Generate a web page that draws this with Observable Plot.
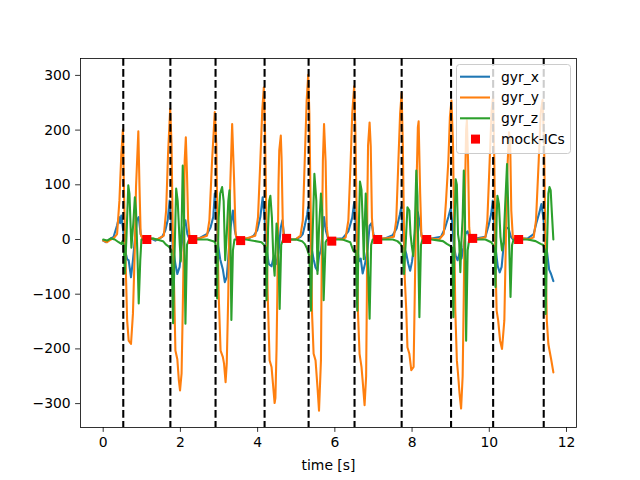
<!DOCTYPE html>
<html>
<head>
<meta charset="utf-8">
<script src="https://cdn.jsdelivr.net/npm/d3@7"></script>
<script src="https://cdn.jsdelivr.net/npm/@observablehq/plot@0.6"></script>
<style>
  html, body { margin: 0; padding: 0; background: white; }
  #wrap { position: relative; width: 640px; height: 480px; font-family: "DejaVu Sans", sans-serif; }
  #legend { position: absolute; left: 456px; top: 64px; }
</style>
</head>
<body>
<div id="wrap"></div>
<script>
// ---- data ----
const gyrXTime = [0,0.07,0.20,0.27,0.36,0.41,0.44,0.47,0.53,0.58,0.62,0.66,0.72,0.77,0.82,0.87,0.92,0.97,1.03,1.20,1.35,1.53,1.61,1.67,1.72,1.76,1.80,1.87,1.92,1.98,2.03,2.08,2.13,2.18,2.24,2.48,2.69,2.78,2.85,2.89,2.94,2.98,3.03,3.10,3.15,3.20,3.25,3.30,3.36,3.41,3.46,3.77,3.90,3.99,4.07,4.13,4.18,4.22,4.29,4.36,4.42,4.48,4.54,4.60,4.64,4.68,4.72,4.98,5.11,5.17,5.22,5.28,5.31,5.34,5.38,5.45,5.50,5.55,5.59,5.64,5.72,5.77,5.83,6.20,6.35,6.45,6.50,6.53,6.57,6.62,6.67,6.72,6.78,6.85,6.90,6.95,7.00,7.05,7.30,7.50,7.60,7.68,7.72,7.76,7.80,7.85,7.90,7.95,8.00,8.05,8.10,8.15,8.20,8.25,8.30,8.50,8.75,8.85,8.94,9.00,9.04,9.08,9.13,9.18,9.23,9.28,9.33,9.38,9.44,9.50,9.90,9.98,10.05,10.09,10.12,10.17,10.22,10.27,10.32,10.37,10.43,10.50,10.56,10.62,11.00,11.15,11.22,11.30,11.35,11.40,11.45,11.50,11.55,11.60,11.66];
const gyrXValue = [-2,-5,2,5,26,41,30,44,10,-24,-36,-38,-69,-38,0,35,41,10,0,3,-2,5,17,35,71,41,-12,-45,-63,-50,-12,22,35,10,0,2,10,22,41,84,41,-12,-36,-55,-78,-69,-24,22,53,17,0,2,7,17,41,77,41,-12,-45,-49,-30,-45,-24,22,35,10,0,0,5,10,25,45,59,30,-10,-36,-51,-57,-30,-20,41,15,0,2,15,40,68,40,-5,-40,-35,-62,-45,-15,25,30,10,0,2,8,20,45,59,20,-15,-26,-44,-57,-40,-10,30,50,30,5,0,2,5,20,41,57,30,-10,-30,-38,-25,-35,-15,10,15,0,5,25,47,71,30,-20,-49,-60,-50,-12,22,20,5,0,2,10,30,50,65,40,0,-25,-55,-63,-76];

const gyrYTime = [0,0.10,0.20,0.27,0.36,0.42,0.47,0.51,0.54,0.58,0.62,0.66,0.72,0.77,0.82,0.85,0.91,0.94,0.97,1.03,1.20,1.40,1.57,1.63,1.68,1.735,1.77,1.80,1.84,1.87,1.92,1.96,1.99,2.03,2.06,2.09,2.11,2.14,2.17,2.20,2.24,2.48,2.69,2.75,2.82,2.89,2.93,2.96,2.99,3.04,3.10,3.13,3.17,3.20,3.24,3.27,3.34,3.39,3.43,3.47,3.70,3.94,4.01,4.07,4.12,4.16,4.19,4.23,4.26,4.31,4.36,4.39,4.44,4.46,4.49,4.51,4.54,4.56,4.60,4.62,4.65,4.68,4.98,5.11,5.17,5.22,5.27,5.31,5.34,5.38,5.41,5.45,5.50,5.55,5.59,5.64,5.66,5.69,5.72,5.76,5.79,5.83,6.00,6.20,6.28,6.35,6.41,6.45,6.50,6.53,6.57,6.60,6.64,6.69,6.72,6.77,6.81,6.83,6.84,6.86,6.90,6.93,6.96,7.00,7.31,7.53,7.59,7.64,7.69,7.73,7.76,7.79,7.81,7.85,7.88,7.93,7.98,8.04,8.07,8.11,8.15,8.17,8.21,8.24,8.27,8.50,8.70,8.82,8.88,8.94,8.98,9.02,9.06,9.09,9.12,9.16,9.19,9.23,9.27,9.31,9.34,9.37,9.40,9.42,9.45,9.48,9.51,9.64,9.90,9.95,10.01,10.06,10.10,10.13,10.16,10.19,10.23,10.28,10.33,10.39,10.42,10.46,10.51,10.54,10.57,10.61,10.65,10.90,11.02,11.15,11.21,11.28,11.33,11.38,11.42,11.46,11.49,11.53,11.56,11.60,11.66];
const gyrYValue = [-2,-5,0,2,10,71,157,201,83,-38,-148,-185,-191,-136,-14,96,198,96,10,0,2,0,7,53,157,239,175,22,-99,-203,-219,-258,-276,-245,-130,0,144,187,120,35,2,2,7,35,144,233,175,22,-99,-203,-215,-227,-261,-227,-99,53,211,110,10,0,2,7,41,144,236,278,205,22,-99,-221,-233,-258,-299,-290,-200,-99,100,163,190,150,35,0,0,7,35,144,254,301,230,22,-136,-209,-221,-270,-313,-221,-38,144,211,144,22,0,2,0,4,35,144,230,280,205,22,-136,-209,-233,-258,-303,-250,-99,60,172,214,170,40,0,2,5,35,132,230,268,175,22,-69,-130,-197,-209,-239,-233,-99,84,205,216,84,10,0,2,0,10,71,144,224,254,175,22,-130,-221,-245,-282,-309,-250,-99,84,200,218,144,22,0,0,4,35,144,236,262,144,-38,-130,-148,-185,-200,-148,-38,114,196,182,53,4,0,2,0,4,35,144,230,255,175,-38,-148,-191,-203,-218,-243];

const gyrZTime = [0,0.10,0.20,0.30,0.40,0.47,0.50,0.53,0.56,0.60,0.65,0.68,0.73,0.78,0.82,0.85,0.89,0.92,0.96,0.99,1.05,1.30,1.55,1.62,1.70,1.77,1.81,1.85,1.89,1.93,1.98,2.01,2.03,2.06,2.09,2.13,2.17,2.22,2.50,2.70,2.85,2.90,2.93,2.95,2.99,3.03,3.08,3.12,3.16,3.20,3.24,3.27,3.29,3.32,3.36,3.40,3.70,4.10,4.17,4.21,4.23,4.27,4.30,4.33,4.37,4.41,4.44,4.49,4.53,4.57,4.61,4.66,5.00,5.15,5.22,5.27,5.34,5.38,5.42,5.47,5.52,5.55,5.59,5.64,5.67,5.71,5.76,5.80,6.20,6.40,6.48,6.54,6.58,6.62,6.65,6.69,6.72,6.75,6.77,6.80,6.83,6.86,6.90,6.94,6.98,7.50,7.62,7.70,7.75,7.79,7.84,7.88,7.93,7.96,7.99,8.03,8.07,8.11,8.14,8.16,8.19,8.23,8.27,8.50,8.80,8.90,9.00,9.04,9.07,9.10,9.13,9.16,9.19,9.22,9.25,9.28,9.31,9.34,9.37,9.40,9.44,9.48,9.90,10.05,10.10,10.14,10.16,10.19,10.21,10.25,10.29,10.33,10.37,10.41,10.46,10.49,10.52,10.55,10.59,10.63,11.00,11.20,11.33,11.40,11.44,11.46,11.50,11.53,11.56,11.59,11.62,11.66];
const gyrZValue = [0,-2,2,0,-5,-8,-3,-10,-62,0,99,84,-15,30,77,53,-36,-117,-38,0,0,2,-3,-9,-13,-20,-153,-20,93,70,-5,-40,20,135,60,-154,-10,0,0,0,-3,-5,-20,-108,40,84,96,70,-38,10,70,90,40,-147,-20,0,0,-5,-10,-15,-111,20,71,80,40,-40,-66,29,0,-127,-10,0,0,-3,-8,-15,-30,-130,0,120,71,-63,20,84,53,-111,-5,0,0,-5,-21,-20,-130,20,106,91,36,-36,20,84,20,-50,-145,-10,0,0,-3,-8,-15,-63,0,59,53,10,-10,-30,20,126,80,-20,-142,-10,0,0,-3,-8,-12,-15,-142,20,110,100,10,-5,-60,0,40,126,40,-185,-20,0,0,-5,-10,-20,-87,40,80,65,5,-20,-5,60,138,60,-20,-105,-10,0,0,-3,-8,-10,-20,-136,0,84,96,90,50,0];

const icTime  = [1.13, 2.32, 3.56, 4.75, 5.92, 7.11, 8.38, 9.57, 10.76];
const icValue = [0, 0, -2, 2, -3, 0, 0, 2, 0];

const lineTimes = [0.52, 1.74, 2.91, 4.18, 5.32, 6.51, 7.73, 9.01, 10.10, 11.41];

const xTicks = [0, 2, 4, 6, 8, 10, 12];
const yTicks = [-300, -200, -100, 0, 100, 200, 300];

const seriesNames = ["gyr_x", "gyr_y", "gyr_z"];
const legendLabels = ["gyr_x", "gyr_y", "gyr_z", "mock-ICs"];
const colors = ["#1f77b4", "#ff7f0e", "#2ca02c"];
const icColor = "#ff0000";

// ---- build tables ----
const toRows = (ts, vs) => ts.map((t, i) => ({t, v: vs[i]}));
const gx = toRows(gyrXTime, gyrXValue);
const gy = toRows(gyrYTime, gyrYValue);
const gz = toRows(gyrZTime, gyrZValue);
const ics = toRows(icTime, icValue);

const minus = d => d < 0 ? "\u2212" + Math.abs(d) : String(d);
const lw = 2.08;

const chart = Plot.plot({
  width: 640,
  height: 480,
  marginLeft: 80,
  marginRight: 64,
  marginTop: 58,
  marginBottom: 53,
  style: {fontFamily: "DejaVu Sans, sans-serif", fontSize: "13.9px", background: "white", color: "black", overflow: "visible"},
  x: {domain: [-0.588, 12.259]},
  y: {domain: [-343.7, 330.9]},
  marks: [
    Plot.line(gx, {x: "t", y: "v", stroke: colors[0], strokeWidth: lw}),
    Plot.line(gy, {x: "t", y: "v", stroke: colors[1], strokeWidth: lw}),
    Plot.line(gz, {x: "t", y: "v", stroke: colors[2], strokeWidth: lw}),
    Plot.dot(ics, {x: "t", y: "v", symbol: "square", r: 5.1, fill: icColor, stroke: null}),
    Plot.ruleX(lineTimes, {stroke: "black", strokeWidth: lw, strokeDasharray: "7.7,3.3"}),
    Plot.frame({stroke: "black", strokeWidth: 0.8}),
    Plot.axisX({ticks: xTicks, tickFormat: minus, tickSize: 4.9, tickPadding: 4.9, strokeWidth: 0.8,
                label: "time [s]", labelAnchor: "center", labelArrow: "none", labelOffset: 42}),
    Plot.axisY({ticks: yTicks, tickFormat: minus, tickSize: 4.9, tickPadding: 4.9, strokeWidth: 0.8, label: null})
  ]
});

const wrap = document.getElementById("wrap");
wrap.appendChild(chart);

// ---- legend (upper right, matplotlib style) ----
const ns = "http://www.w3.org/2000/svg";
const leg = document.createElementNS(ns, "svg");
leg.setAttribute("id", "legend");
leg.setAttribute("width", 116);
leg.setAttribute("height", 92);
const box = document.createElementNS(ns, "rect");
box.setAttribute("x", 0.5); box.setAttribute("y", 0.5);
box.setAttribute("width", 114); box.setAttribute("height", 89);
box.setAttribute("rx", 3);
box.setAttribute("fill", "white"); box.setAttribute("fill-opacity", 0.8);
box.setAttribute("stroke", "#cccccc"); box.setAttribute("stroke-width", 1);
leg.appendChild(box);
const rowY = [12.7, 33.5, 54.3, 75.1];
legendLabels.forEach((lab, i) => {
  const y = rowY[i];
  if (i < 3) {
    const l = document.createElementNS(ns, "line");
    l.setAttribute("x1", 4); l.setAttribute("x2", 34);
    l.setAttribute("y1", y); l.setAttribute("y2", y);
    l.setAttribute("stroke", colors[i]); l.setAttribute("stroke-width", lw);
    leg.appendChild(l);
  } else {
    const r = document.createElementNS(ns, "rect");
    r.setAttribute("x", 19.5 - 4.5); r.setAttribute("y", y - 4.5);
    r.setAttribute("width", 9); r.setAttribute("height", 9);
    r.setAttribute("fill", icColor);
    leg.appendChild(r);
  }
  const t = document.createElementNS(ns, "text");
  t.setAttribute("x", 45); t.setAttribute("y", y);
  t.setAttribute("dy", "0.35em");
  t.setAttribute("font-family", "DejaVu Sans, sans-serif");
  t.setAttribute("font-size", "13.9px");
  t.textContent = lab;
  leg.appendChild(t);
});
wrap.appendChild(leg);
</script>
</body>
</html>
